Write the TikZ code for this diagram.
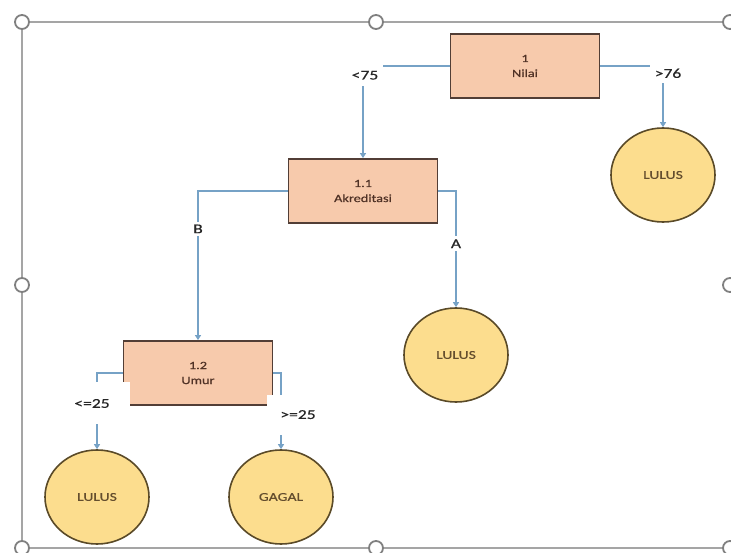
\documentclass[tikz,border=0pt]{standalone}
\usepackage{fontspec}
\newfontfamily\treefont[FakeStretch=1.3,FakeBold=0.6]{Carlito}
\usetikzlibrary{shapes.geometric,arrows.meta}
\definecolor{boxfill}{RGB}{247,202,172}
\definecolor{boxline}{RGB}{82,62,54}
\definecolor{boxtext}{RGB}{80,50,38}
\definecolor{leaffill}{RGB}{252,221,142}
\definecolor{leafline}{RGB}{90,74,40}
\definecolor{leaftext}{RGB}{100,78,46}
\definecolor{linkblue}{RGB}{118,162,198}
\definecolor{framegray}{RGB}{165,165,165}
\def\handle(#1){\draw[line width=1.8pt, color=black!50, fill=white] (#1) circle (7pt);}
\tikzset{
	split/.style={draw=boxline, line width=1.8pt, fill=boxfill, minimum width=149pt, minimum height=64pt, align=center, text=boxtext, font=\treefont\fontsize{11}{15}\selectfont},
	leaf/.style={ellipse, draw=leafline, line width=1.6pt, fill=leaffill, minimum width=104pt, minimum height=94pt, text=leaftext, font=\treefont\fontsize{12}{14}\selectfont},
	link/.style={draw=linkblue, line width=1.6pt, -{Triangle[length=5pt,width=6pt]}},
	cond/.style={fill=white, text=black!85, inner sep=3pt, font=\treefont\fontsize{13.5}{16}\selectfont},
}

\begin{document}
\begin{tikzpicture}[x=1pt, y=-1pt]
		%%%%% START %%%%%
		\useasboundingbox (0,0) rectangle (731,553);
		
		\draw[line width=1.5pt, color=framegray] (22,22) rectangle (733,548);
		\foreach \x/\y in {22/22, 376/22, 730/22, 22/285, 730/285, 22/548, 376/548, 730/548}
			\handle(\x,\y);
		
		\node[split] (nilai) at (525,66) {1\\Nilai};
		\node[split] (akred) at (363,191) {1.1\\Akreditasi};
		\node[split] (umur) at (198,373) {1.2\\Umur};
		
		\node[leaf] (lulusA) at (663,175) {LULUS};
		\node[leaf] (lulusB) at (456,355) {LULUS};
		\node[leaf] (lulusC) at (97,497) {LULUS};
		\node[leaf] (gagal) at (281,497) {GAGAL};
		
		\draw[link] (nilai.west) -| node[cond, pos=0.55, xshift=2, minimum width=36pt, minimum height=21pt] {<75} (akred.north);
		\draw[link] (nilai.east) -| node[cond, pos=0.56, xshift=5, minimum width=36pt, minimum height=20pt] {>76} (lulusA.north);
		
		\draw[link] (akred.west) -| node[cond, pos=0.627] {B} (umur.north);
		\draw[link] (akred.east) -| node[cond, pos=0.727] {A} (lulusB.north);
		
		\draw[link] (umur.west) -| node[cond, pos=0.70, xshift=-5, minimum width=76pt, minimum height=42pt] {<=25} (lulusC.north);
		\draw[link] (umur.east) -| node[cond, pos=0.773, xshift=17, minimum width=62pt, minimum height=40pt] {>=25} (gagal.north);
		%%%%% END %%%%%
	\end{tikzpicture}
\end{document}
